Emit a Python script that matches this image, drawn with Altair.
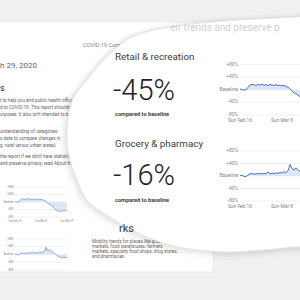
import altair as alt
import pandas as pd

# ---------------- data ----------------
DAY_TICKS = [0, 21, 42]
DAY_LABELS = ["Sun Feb 16", "Sun Mar 8", "Sun Mar 29"]
Y_TICKS = [80, 40, 0, -40, -80]
Y_LABELS = ["+80%", "+40%", "Baseline", "-40%", "-80%"]

RETAIL = [2, 1, -1, 0, 8, 15, 17, 16, 13, 17, 15, 18, 14, 16, 13, 17, 15, 14, 16, 13,
          15, 12, 14, 10, 8, 3, -4, -9, -13, -17, -22, -28, -35, -41, -45, -48, -50,
          -49, -47, -48, -46, -47, -45]
GROCERY = [1, 2, -1, -2, 3, 7, 8, 6, 7, 8, 6, 9, 7, 8, 13, 7, 9, 8, 10, 8,
           12, 9, 14, 11, 17, 37, 24, 19, 26, 20, 15, 10, 5, 0, -6, -10, -13,
           -15, -14, -17, -15, -16, -16]

CATEGORIES = ["Retail & recreation", "Grocery & pharmacy"]
CHANGES = ["-45%", "-16%"]

FONT = "Roboto"
ONE = pd.DataFrame({"k": [0]})


# ---------------- helpers ----------------
def texts(rows, **style):
    df = pd.DataFrame(rows, columns=["x", "y", "t"])
    base = dict(align="left", baseline="alphabetic", font=FONT)
    base.update(style)
    return alt.Chart(df).mark_text(**base).encode(
        x=alt.X("x:Q", scale=None, axis=None),
        y=alt.Y("y:Q", scale=None, axis=None),
        text="t:N",
    )


def rect(x, x2, y, y2, **style):
    return alt.Chart(ONE).mark_rect(**style).encode(
        x=alt.value(x), x2=alt.value(x2), y=alt.value(y), y2=alt.value(y2)
    )


def smooth_path(pts):
    n = len(pts)
    d = f"M{pts[0][0]},{pts[0][1]}"
    for i in range(n):
        p0, p1, p2, p3 = pts[(i - 1) % n], pts[i], pts[(i + 1) % n], pts[(i + 2) % n]
        c1 = (p1[0] + (p2[0] - p0[0]) / 6, p1[1] + (p2[1] - p0[1]) / 6)
        c2 = (p2[0] - (p3[0] - p1[0]) / 6, p2[1] - (p3[1] - p1[1]) / 6)
        d += f"C{c1[0]:.1f},{c1[1]:.1f},{c2[0]:.1f},{c2[1]:.1f},{p2[0]},{p2[1]}"
    return d + "Z"


LENS_OUTLINE = [(67, 135), (69, 113), (74, 97), (87, 80), (100, 64), (113, 51), (130, 38),
                (150, 31), (170, 27), (200, 23), (240, 20), (297, 17), (345, 15),
                (345, 250), (300, 247), (275, 249), (250, 251), (225, 252), (200, 250),
                (183, 248), (160, 242), (140, 234), (125, 226), (105, 214), (87, 200),
                (76, 177), (69, 156)]
LENS_PATH = smooth_path(LENS_OUTLINE)


def lens(dx=0, dy=0, **style):
    return alt.Chart(ONE).mark_point(shape=LENS_PATH, size=4, **style).encode(
        x=alt.value(dx), y=alt.value(dy)
    )


def mini_chart(values, xr, yr, fs, lw, xticks=None, xlabel_dy=5, label_dx=-2):
    n = len(values)
    xs = alt.Scale(domain=[0, n - 1], range=xr, nice=False, zero=False)
    ys = alt.Scale(domain=[-80, 80], range=yr, nice=False, zero=False)
    df = pd.DataFrame({"day": list(range(n)), "value": values})
    gdf = pd.DataFrame({"v": Y_TICKS, "label": Y_LABELS, "x0": 0, "x1": n - 1})
    X = lambda f: alt.X(f, scale=xs, axis=None)
    Y = lambda f: alt.Y(f, scale=ys, axis=None)
    grid = alt.Chart(gdf).mark_rule(color="#e6e8eb", strokeWidth=0.6).encode(
        x=X("x0:Q"), x2="x1:Q", y=Y("v:Q"))
    area = alt.Chart(df).mark_area(color="#dce6f6", opacity=1).encode(
        x=X("day:Q"), y=Y("value:Q"), y2=alt.Y2(datum=0))
    line = alt.Chart(df).mark_line(color="#4b73b9", strokeWidth=lw).encode(
        x=X("day:Q"), y=Y("value:Q"))
    ylab = alt.Chart(gdf).mark_text(align="right", baseline="middle", dx=label_dx,
                                    fontSize=fs, color="#80868b", font=FONT).encode(
        x=X("x0:Q"), y=Y("v:Q"), text="label:N")
    layers = [grid, area, line, ylab]
    if xticks:
        xdf = pd.DataFrame({"day": [DAY_TICKS[i] for i in xticks],
                            "label": [DAY_LABELS[i] for i in xticks], "v": -80})
        xlab = alt.Chart(xdf).mark_text(align="center", baseline="middle", dy=xlabel_dy,
                                        fontSize=fs, color="#80868b", font=FONT).encode(
            x=X("day:Q"), y=Y("v:Q"), text="label:N")
        layers.append(xlab)
    return layers


# ---------------- document (behind the lens) ----------------
GRAY = "#eff0f1"
layers = [
    rect(0, 300, 0, 300, color=GRAY),
    rect(-2, 213, 22, 272, color="white", stroke="#e4e6e8", strokeWidth=0.6),
    texts([(0, 68, "h 29, 2020")], fontSize=8, color="#5f6368"),
    texts([(0, 91, "s")], fontSize=9, color="#202124"),
    texts([(83, 47, "COVID-19 Community Mobility Report")], fontSize=5.6, color="#80868b"),
    texts([
        (0, 102, "t to help you and public health officials"),
        (0, 109, "d to COVID-19. This report shouldn't"),
        (0, 116, "urposes. It also isn't intended to be"),
        (0, 133, "understanding of categories"),
        (0, 140, "s data to compare changes in"),
        (0, 147, "g. rural versus urban areas)."),
        (0, 158, "the report if we don't have statistically"),
        (0, 165, "and preserve privacy, read About this data"),
    ], fontSize=4.6, color="#5f6368"),
    texts([
        (92, 243, "Mobility trends for places like grocery"),
        (92, 248, "markets, food warehouses, farmers"),
        (92, 253, "markets, specialty food shops, drug stores,"),
        (92, 258, "and pharmacies."),
    ], fontSize=4.5, color="#5f6368"),
]
layers += mini_chart(RETAIL, [15, 67], [217, 187], 2.6, 0.6, xticks=[0, 1, 2],
                     xlabel_dy=4, label_dx=-1.5)
layers += mini_chart(GROCERY, [15, 67], [270, 239], 2.6, 0.6, label_dx=-1.5)

# ---------------- magnifier ----------------
layers += [
    lens(-2, 2, filled=False, stroke="black", strokeWidth=12, strokeOpacity=0.015, opacity=1),
    lens(-1.5, 1.5, filled=False, stroke="black", strokeWidth=7, strokeOpacity=0.03, opacity=1),
    lens(-1, 1, filled=False, stroke="black", strokeWidth=3.5, strokeOpacity=0.04, opacity=1),
    lens(0, 0, filled=True, fill="white", stroke="#e2e2e2", strokeWidth=0.8, opacity=1),
    texts([(119, 232, "rks")], fontSize=11, color="#3c4043"),
]

# ---------------- magnified content ----------------
layers += [
    texts([(170, 31, "eir trends and preserve p")], fontSize=10, color="#cfd1d4"),
    texts([(115, 60, CATEGORIES[0]), (115, 147, CATEGORIES[1])], fontSize=9.8, color="#3c4043"),
    texts([(113, 100, CHANGES[0]), (113, 185, CHANGES[1])], fontSize=29, fontWeight=300,
          color="#202124"),
    texts([(115, 116, "compared to baseline"), (115, 202, "compared to baseline")],
          fontSize=5.6, fontWeight="bold", color="#3c4043"),
]
layers += mini_chart(RETAIL, [240, 324], [115, 64.5], 4.9, 1.0, xticks=[0, 1], xlabel_dy=5.5)
layers += mini_chart(GROCERY, [240, 324], [201, 151], 4.9, 1.0, xticks=[0, 1], xlabel_dy=5.5)

chart = alt.layer(*layers).resolve_scale(x="independent", y="independent").properties(
    width=300, height=300, autosize="none", padding=0
).configure_view(stroke=None)

chart.save("out.html", embed_options={"renderer": "svg", "actions": False})
